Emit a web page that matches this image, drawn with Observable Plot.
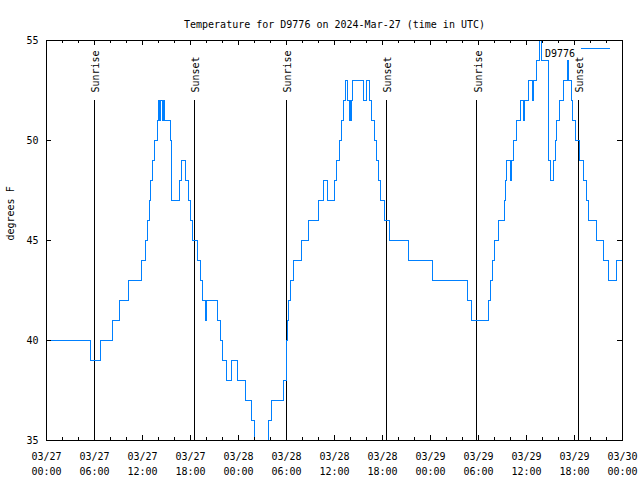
<!DOCTYPE html>
<html><head><meta charset="utf-8">
<script src="https://cdn.jsdelivr.net/npm/d3@7"></script>
<script src="https://cdn.jsdelivr.net/npm/@observablehq/plot@0.6"></script>
<style>
html,body{margin:0;padding:0;background:#fff;}
svg{display:block;}
</style></head><body><div id="chart"></div>
<script>
// Hours since 2024-03-27 00:00 UTC at which the reading changes, and the reading (degrees F)
const hours = [0, 5.56, 6.8, 8.3, 9.1, 10.2, 11.9, 12.35, 12.58, 12.83,
  13.0, 13.25, 13.5, 13.83, 14.0, 14.15, 14.3, 14.45, 14.58, 14.75,
  15.45, 15.62, 16.65, 16.85, 17.35, 17.75, 18.05, 18.3, 18.9, 19.25,
  19.45, 19.9, 20.05, 21.4, 21.7, 22.0, 22.45, 23.1, 23.85, 24.85,
  25.65, 25.95, 26.2, 27.65, 27.8, 28.15, 29.65, 29.95, 30.0, 30.1,
  30.25, 30.5, 30.85, 31.85, 32.7, 33.95, 34.6, 35.1, 36.05, 36.3,
  36.6, 36.85, 37.15, 37.4, 37.58, 37.83, 37.92, 38.0, 38.1, 38.3,
  39.66, 39.95, 40.4, 40.6, 41.0, 41.25, 41.45, 41.7, 42.2, 42.85,
  45.25, 48.3, 52.6, 53.1, 55.25, 55.45, 55.7, 56.0, 56.45, 57.2,
  57.35, 57.55, 58.0, 58.15, 58.35, 58.75, 59.25, 59.65, 59.8, 60.3,
  60.75, 60.9, 61.2, 61.65, 61.9, 62.75, 62.95, 63.35, 63.6, 63.75,
  64.1, 64.6, 65.1, 65.3, 65.6, 65.75, 66.15, 66.65, 67.1, 67.45,
  67.8, 68.7, 69.6, 70.3, 71.3, 72];
const temps = [40, 39, 40, 41, 42, 43, 44, 45, 46, 47,
  48, 49, 50, 51, 52, 51, 52, 51, 52, 51,
  50, 47, 48, 49, 48, 47, 46, 45, 44, 43,
  42, 41, 42, 41, 40, 39, 38, 39, 38, 37,
  36, 35, 34, 35, 36, 37, 38, 39, 40, 41,
  42, 43, 44, 45, 46, 47, 48, 47, 48, 49,
  50, 51, 52, 53, 52, 51, 52, 51, 52, 53,
  52, 53, 52, 51, 50, 49, 48, 47, 46, 45,
  44, 43, 42, 41, 42, 43, 44, 45, 46, 47,
  48, 49, 48, 49, 50, 51, 52, 51, 52, 53,
  52, 53, 54, 55, 54, 49, 48, 49, 50, 51,
  52, 53, 54, 53, 52, 51, 50, 49, 48, 47,
  46, 45, 44, 43, 44, 44];

const sunriseHours = [6.04, 29.96, 53.8];
const sunsetHours = [18.54, 42.54, 66.54];

const xTickHours = [0, 6, 12, 18, 24, 30, 36, 42, 48, 54, 60, 66, 72];
const xTickLabels = ["03/27\n00:00", "03/27\n06:00", "03/27\n12:00", "03/27\n18:00",
  "03/28\n00:00", "03/28\n06:00", "03/28\n12:00", "03/28\n18:00",
  "03/29\n00:00", "03/29\n06:00", "03/29\n12:00", "03/29\n18:00", "03/30\n00:00"];
const xMinorHours = d3.range(2, 72, 2).filter(h => h % 6 !== 0);
const yTicks = [35, 40, 45, 50, 55];

const title = "Temperature for D9776 on 2024-Mar-27 (time in UTC)";
const yLabel = "degrees F";
const seriesName = "D9776";

const t0 = Date.UTC(2024, 2, 27);
const toDate = h => new Date(t0 + h * 3600e3);

const series = hours.map((h, i) => ({t: toDate(h), v: temps[i]}));
const sunEvents = [
  ...sunriseHours.map(h => ({t: toDate(h), label: "Sunrise"})),
  ...sunsetHours.map(h => ({t: toDate(h), label: "Sunset"}))
];
const majorTicks = xTickHours.map((h, i) => ({t: toDate(h), label: xTickLabels[i]}));
const minorTicks = xMinorHours.map(h => ({t: toDate(h)}));

const FONT = "'DejaVu Sans Mono', monospace";
const BLUE = "#0080ff";

const chart = Plot.plot({
  width: 640,
  height: 480,
  marginLeft: 46,
  marginRight: 18,
  marginTop: 40,
  marginBottom: 40,
  style: {fontFamily: FONT, fontSize: "10px", background: "white", color: "black"},
  x: {type: "utc", domain: [toDate(0), toDate(72)], axis: null},
  y: {domain: [35, 55], axis: null},
  marks: [
    Plot.ruleX(sunEvents, {x: "t", insetTop: 60, stroke: "black", strokeWidth: 1, shapeRendering: "crispEdges"}),
    Plot.text(sunEvents, {x: "t", text: "label", frameAnchor: "top", dy: 52, dx: -2.5, rotate: -90,
      textAnchor: "start", fill: "black", fontSize: 10}),
    Plot.line(series, {x: "t", y: "v", curve: "step-after", stroke: BLUE, strokeWidth: 1,
      clip: true, shapeRendering: "crispEdges"}),
    // ticks (inward, mirrored)
    Plot.tickX(majorTicks, {x: "t", insetTop: 395, stroke: "black", shapeRendering: "crispEdges"}),
    Plot.tickX(majorTicks, {x: "t", insetBottom: 395, stroke: "black", shapeRendering: "crispEdges"}),
    Plot.tickX(minorTicks, {x: "t", insetTop: 397, stroke: "black", shapeRendering: "crispEdges"}),
    Plot.tickX(minorTicks, {x: "t", insetBottom: 397, stroke: "black", shapeRendering: "crispEdges"}),
    Plot.tickY(yTicks, {y: d => d, insetRight: 571, stroke: "black", shapeRendering: "crispEdges"}),
    Plot.tickY(yTicks, {y: d => d, insetLeft: 571, stroke: "black", shapeRendering: "crispEdges"}),
    Plot.frame({stroke: "black", shapeRendering: "crispEdges"}),
    // tick labels
    Plot.text(majorTicks, {x: "t", text: "label", frameAnchor: "bottom", dy: 22.5, lineHeight: 1.5,
      lineAnchor: "middle", fill: "black", fontSize: 10}),
    Plot.text(yTicks, {y: d => d, text: d => String(d), frameAnchor: "left", dx: -8,
      textAnchor: "end", fill: "black", fontSize: 10}),
    // axis label, title, legend text
    Plot.text([yLabel], {frameAnchor: "left", dx: -36, rotate: -90, fill: "black", fontSize: 10}),
    Plot.text([title], {frameAnchor: "top", dy: -20, fill: "black", fontSize: 10}),
    Plot.text([seriesName], {frameAnchor: "top-right", dx: -47.5, dy: 9.5, textAnchor: "end",
      fill: "black", fontSize: 10})
  ]
});

// legend sample line
d3.select(chart).append("line")
  .attr("x1", 581).attr("x2", 610).attr("y1", 48.5).attr("y2", 48.5)
  .attr("stroke", BLUE).attr("stroke-width", 1).attr("shape-rendering", "crispEdges");

document.getElementById("chart").appendChild(chart);
</script>
</body></html>
